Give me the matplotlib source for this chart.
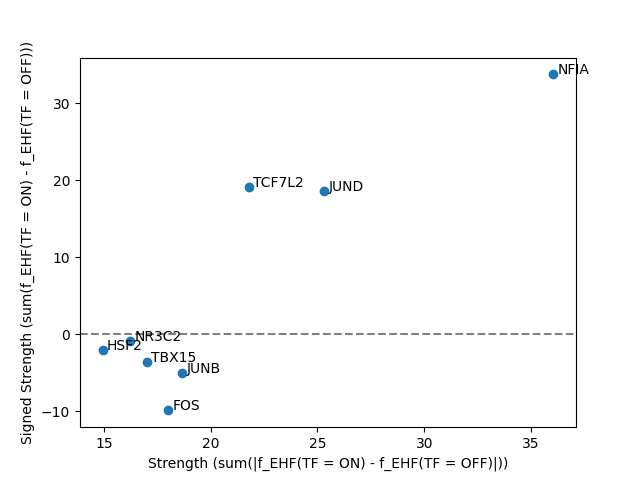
import matplotlib
matplotlib.use("Agg")
import matplotlib.pyplot as plt

names = ["NFIA", "TCF7L2", "JUND", "NR3C2", "HSF2", "TBX15", "JUNB", "FOS"]
strength = [36.05, 21.80, 25.32, 16.24, 14.94, 17.02, 18.66, 18.00]
signed = [33.75, 19.12, 18.60, -0.87, -2.08, -3.64, -5.03, -9.90]

fig, ax = plt.subplots(figsize=(6.4, 4.8), dpi=100)
ax.scatter(strength, signed)
for n, x, y in zip(names, strength, signed):
    ax.text(x + 0.2, y, n)
ax.axhline(0, color="gray", linestyle="--")
ax.set_xlabel("Strength (sum(|f_EHF(TF = ON) - f_EHF(TF = OFF)|))")
ax.set_ylabel("Signed Strength (sum(f_EHF(TF = ON) - f_EHF(TF = OFF)))")
fig.savefig("out.png")
